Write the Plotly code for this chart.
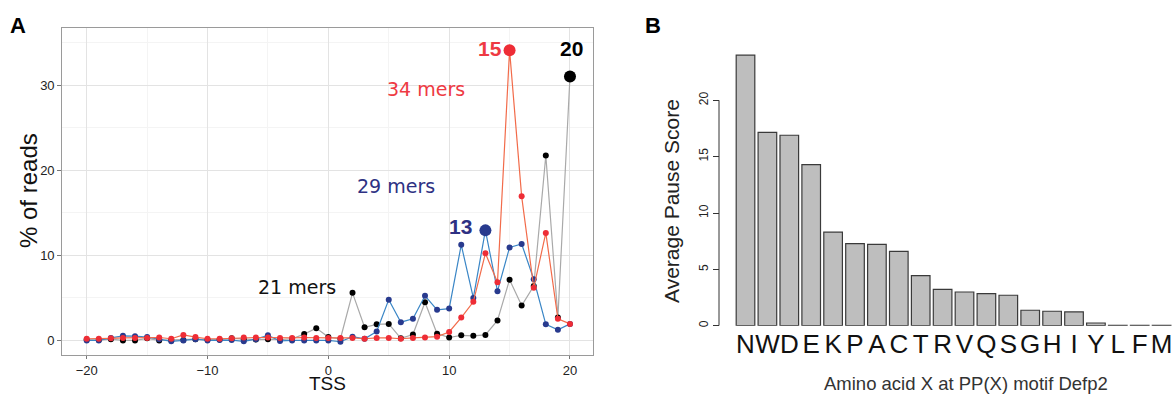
import plotly.graph_objects as go

# ---------- Panel A data ----------
tss = list(range(-20, 21))
mers21 = [0.05, 0.0, 0.1, -0.05, -0.05, 0.2, -0.05, 0.0, 0.0, 0.1,
          0.05, 0.05, 0.2, 0.1, 0.05, 0.1, 0.05, 0.15, 0.7, 1.4,
          0.35, 0.15, 5.55, 1.5, 1.85, 1.9, 0.2, 0.65, 4.45, 0.75,
          0.3, 0.55, 0.5, 0.6, 2.3, 7.1, 4.05, 6.35, 21.7, 2.65, 31.0]
mers29 = [-0.05, -0.05, 0.25, 0.5, 0.45, 0.35, 0.1, -0.15, -0.05, 0.1,
          -0.05, 0.0, 0.0, -0.15, 0.1, 0.55, -0.1, -0.05, -0.05, -0.05,
          -0.05, -0.2, 0.4, 0.15, 1.0, 4.75, 2.1, 2.5, 5.2, 3.55,
          3.7, 11.2, 4.95, 12.9, 5.75, 10.9, 11.3, 7.15, 1.85, 1.2, 1.9]
mers34 = [0.15, 0.15, 0.2, 0.25, 0.25, 0.25, 0.3, 0.15, 0.6, 0.35,
          0.15, 0.15, 0.2, 0.3, 0.3, 0.3, 0.25, 0.25, 0.3, 0.25,
          0.25, 0.25, 0.25, 0.15, 0.25, 0.25, 0.15, 0.25, 0.3, 0.4,
          0.95, 2.65, 4.5, 10.2, 6.8, 34.1, 16.9, 6.15, 12.6, 2.5, 1.9]
peak_pos = {"21": 20, "29": 13, "34": 15}

# ---------- Panel B data ----------
amino = ["N", "W", "D", "E", "K", "P", "A", "C", "T", "R",
         "V", "Q", "S", "G", "H", "I", "Y", "L", "F", "M"]
pause = [24.0, 17.15, 16.9, 14.3, 8.3, 7.28, 7.22, 6.6, 4.44, 3.23,
         2.99, 2.85, 2.7, 1.37, 1.28, 1.22, 0.24, 0.03, 0.03, 0.03]

W, H = 1173, 394
def px(x): return x / W
def py(y): return (H - y) / H

RED_LINE, RED_PT, RED_TXT = "#f26b4a", "#ee2d36", "#ee3a43"
BLUE_LINE, BLUE_PT, BLUE_TXT = "#3a86c6", "#283a8e", "#2e3183"
GREY_LINE, BLACK_PT = "#a9a9a9", "#000000"
FONT = "Liberation Sans, Arial, sans-serif"
DJ = "DejaVu Sans, Verdana, sans-serif"

fig = go.Figure()

series = [(mers21, GREY_LINE, BLACK_PT, "21"),
          (mers29, BLUE_LINE, BLUE_PT, "29"),
          (mers34, RED_LINE, RED_PT, "34")]
for vals, lc, mc, name in series:
    fig.add_trace(go.Scatter(x=tss, y=vals, mode="lines+markers",
                             line=dict(color=lc, width=1.2),
                             marker=dict(color=mc, size=6),
                             xaxis="x", yaxis="y", showlegend=False))
for vals, lc, mc, name in series:
    i = tss.index(peak_pos[name])
    fig.add_trace(go.Scatter(x=[tss[i]], y=[vals[i]], mode="markers",
                             marker=dict(color=mc, size=12),
                             xaxis="x", yaxis="y", showlegend=False))

fig.add_trace(go.Bar(x=amino, y=pause, xaxis="x2", yaxis="y2",
                     marker=dict(color="#bebebe", line=dict(color="#3a3a3a", width=1.2)),
                     width=0.85, showlegend=False))

ann = []
def t(x, y, s, color, size, bold=False, xref="x", yref="y", family=FONT, **kw):
    ann.append(dict(x=x, y=y, xref=xref, yref=yref, text=("<b>%s</b>" % s) if bold else s,
                    xanchor="center", yanchor="middle", borderpad=0,
                    showarrow=False, font=dict(color=color, size=size, family=family), **kw))

t(8.05, 29.5, "34 mers", RED_TXT, 19, family=DJ)
t(5.6, 18.1, "29 mers", BLUE_TXT, 19, family=DJ)
t(-2.6, 6.2, "21 mers", "#111111", 19, family=DJ)
t(13.4, 34.35, "15", RED_TXT, 21, bold=True)
t(20.15, 34.35, "20", "#000000", 21, bold=True)
t(10.95, 13.3, "13", BLUE_TXT, 21, bold=True)

t(px(18), py(25), "A", "#000000", 22, bold=True, xref="paper", yref="paper")
t(px(653), py(25), "B", "#000000", 22, bold=True, xref="paper", yref="paper")
t(px(29), py(191), "% of reads", "#111111", 24, xref="paper", yref="paper", textangle=-90)
t(px(327), py(383.5), "TSS", "#111111", 19, xref="paper", yref="paper")
t(px(671), py(201), "Average Pause Score", "#222222", 21, xref="paper", yref="paper", textangle=-90)
t(px(966), py(383), "Amino acid X at PP(X) motif Defp2", "#333333", 18.5, xref="paper", yref="paper")

fig.update_layout(
    width=W, height=H, margin=dict(l=0, r=0, t=0, b=0, autoexpand=False),
    paper_bgcolor="white", plot_bgcolor="white",
    font=dict(family=FONT, color="#333333"),
    annotations=ann,
    xaxis=dict(domain=[px(62.3), px(593.3)], range=[-22.02, 21.93], automargin=False,
               tickmode="array", tickvals=[-20, -10, 0, 10, 20],
               ticktext=["\u221220", "\u221210", "0", "10", "20"],
               showgrid=True, gridcolor="#e3e3e3", gridwidth=1,
               minor=dict(tickvals=[-15, -5, 5, 15], showgrid=True, gridcolor="#f4f4f4", gridwidth=1),
               ticks="outside", ticklen=3, tickcolor="#777777",
               showline=True, linecolor="#9a9a9a", linewidth=1.2, mirror=True,
               zeroline=False, tickfont=dict(size=13, color="#222222"), anchor="y"),
    yaxis=dict(domain=[py(355), py(28.3)], range=[-1.76, 36.67], automargin=False,
               tickmode="array", tickvals=[0, 10, 20, 30],
               showgrid=True, gridcolor="#e3e3e3", gridwidth=1,
               minor=dict(tickvals=[5, 15, 25, 35], showgrid=True, gridcolor="#f4f4f4", gridwidth=1),
               ticks="outside", ticklen=4, tickcolor="#777777",
               showline=True, linecolor="#9a9a9a", linewidth=1.2, mirror=True,
               zeroline=False, tickfont=dict(size=13, color="#222222"), anchor="x"),
    xaxis2=dict(domain=[px(719), 1.0], range=[-1.21, 19.52], anchor="y2", automargin=False,
                tickmode="array", tickvals=amino, ticktext=amino, tickangle=0,
                showgrid=False, zeroline=False, showline=False, ticks="",
                tickfont=dict(size=26, color="#111111")),
    yaxis2=dict(domain=[py(325.7), py(43.95)], range=[0, 25], anchor="free", position=px(719),
                automargin=False, tickmode="array", tickvals=[0, 5, 10, 15, 20], tickangle=-90,
                showgrid=False, zeroline=False, showline=False,
                ticks="outside", ticklen=6, tickcolor="#333333",
                tickfont=dict(size=12, color="#222222")),
    bargap=0.15,
    shapes=[dict(type="line", xref="paper", yref="y2", x0=px(719), x1=px(719), y0=0, y1=20,
                 line=dict(color="#333333", width=1))],
)

fig.write_html("out.html", config={"displayModeBar": False},
               post_script="document.body.style.margin='0';")
